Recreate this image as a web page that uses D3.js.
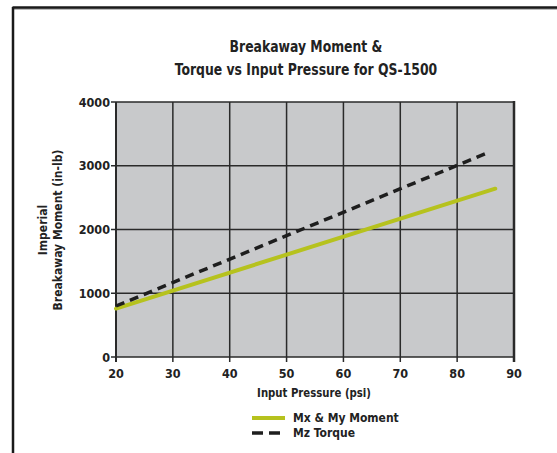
<!DOCTYPE html>
<html><head><meta charset="utf-8">
<script src="https://cdn.jsdelivr.net/npm/d3@7"></script>
<style>body{margin:0;background:#fff}svg{display:block}text{font-family:"DejaVu Sans Condensed","DejaVu Sans",sans-serif;font-weight:bold;fill:#222}</style>
</head><body><svg id="c" width="557" height="453"></svg>
<script>
const xTicks = [20, 30, 40, 50, 60, 70, 80, 90];
const yTicks = [0, 1000, 2000, 3000, 4000];
const momentPressure = [20, 86.7];
const momentValues = [760, 2640];
const torquePressure = [20, 85];
const torqueValues = [800, 3190];
const titleLines = ["Breakaway Moment &", "Torque vs Input Pressure for QS-1500"];
const yTitleLines = ["Imperial", "Breakaway Moment (in-lb)"];
const xTitle = "Input Pressure (psi)";
const seriesNames = ["Mx & My Moment", "Mz Torque"];

const svg = d3.select("#c");
svg.append("line").attr("x1",12.5).attr("x2",557).attr("y1",9).attr("y2",9).attr("stroke","#bbb").attr("stroke-width",2);
svg.append("line").attr("x1",12.5).attr("x2",557).attr("y1",7.5).attr("y2",7.5).attr("stroke","#1a1a1a").attr("stroke-width",2.5);
svg.append("line").attr("x1",13).attr("x2",13).attr("y1",7).attr("y2",453).attr("stroke","#1a1a1a").attr("stroke-width",2.5);

const L=116, R=514, T=102, B=357;
const x = d3.scaleLinear().domain([20,90]).range([L,R]);
const y = d3.scaleLinear().domain([0,4000]).range([B,T]);

svg.append("rect").attr("x",L).attr("y",T).attr("width",R-L).attr("height",B-T).attr("fill","#c8c9cb");
const g = svg.append("g");
g.selectAll(".vg").data(xTicks).join("line").attr("x1",d=>x(d)).attr("x2",d=>x(d)).attr("y1",T).attr("y2",B+5).attr("stroke","#2a2a2a").attr("stroke-width",1.5);
g.selectAll(".hg").data(yTicks).join("line").attr("x1",L-5).attr("x2",R).attr("y1",d=>y(d)).attr("y2",d=>y(d)).attr("stroke","#2a2a2a").attr("stroke-width",1.5);
svg.append("line").attr("x1",L).attr("x2",L).attr("y1",T).attr("y2",B+5).attr("stroke","#2a2a2a").attr("stroke-width",2);
svg.append("line").attr("x1",R).attr("x2",R).attr("y1",T-1).attr("y2",B+5).attr("stroke","#2a2a2a").attr("stroke-width",2.5);

svg.selectAll(".xl").data(xTicks).join("text").attr("x",d=>x(d)).attr("y",B+21).attr("text-anchor","middle").attr("font-size",12.5).text(d=>d);
svg.selectAll(".yl").data(yTicks).join("text").attr("x",L-6).attr("y",d=>y(d)+4.5).attr("text-anchor","end").attr("font-size",12.5).text(d=>d);

const line = d3.line().x(d=>x(d[0])).y(d=>y(d[1]));
svg.append("path").attr("d",line(d3.zip(momentPressure,momentValues))).attr("fill","none").attr("stroke","#b6c21e").attr("stroke-width",4).attr("stroke-linecap","round");
svg.append("path").attr("d",line(d3.zip(torquePressure,torqueValues))).attr("fill","none").attr("stroke","#1e1e1e").attr("stroke-width",3.5).attr("stroke-dasharray","9,6");

svg.selectAll(".tt").data(titleLines).join("text").attr("transform",(d,i)=>`translate(306,${52+i*23}) scale(0.89,1)`).attr("text-anchor","middle").attr("font-size",15.5).text(d=>d);
svg.selectAll(".yt").data(yTitleLines).join("text").attr("transform",(d,i)=>`translate(47,230) rotate(-90) translate(0,${i*15})`).attr("text-anchor","middle").attr("font-size",12).text(d=>d);
svg.append("text").attr("transform","translate(314,397) scale(0.94,1)").attr("text-anchor","middle").attr("font-size",12).text(xTitle);

const lg = svg.append("g");
lg.append("line").attr("x1",252).attr("x2",285).attr("y1",418).attr("y2",418).attr("stroke","#b6c21e").attr("stroke-width",4);
lg.append("line").attr("x1",252).attr("x2",285).attr("y1",433).attr("y2",433).attr("stroke","#1e1e1e").attr("stroke-width",3.5).attr("stroke-dasharray","11,6");
lg.selectAll("text").data(seriesNames).join("text").attr("x",293).attr("y",(d,i)=>422+i*15).attr("font-size",12).text(d=>d);
</script></body></html>
